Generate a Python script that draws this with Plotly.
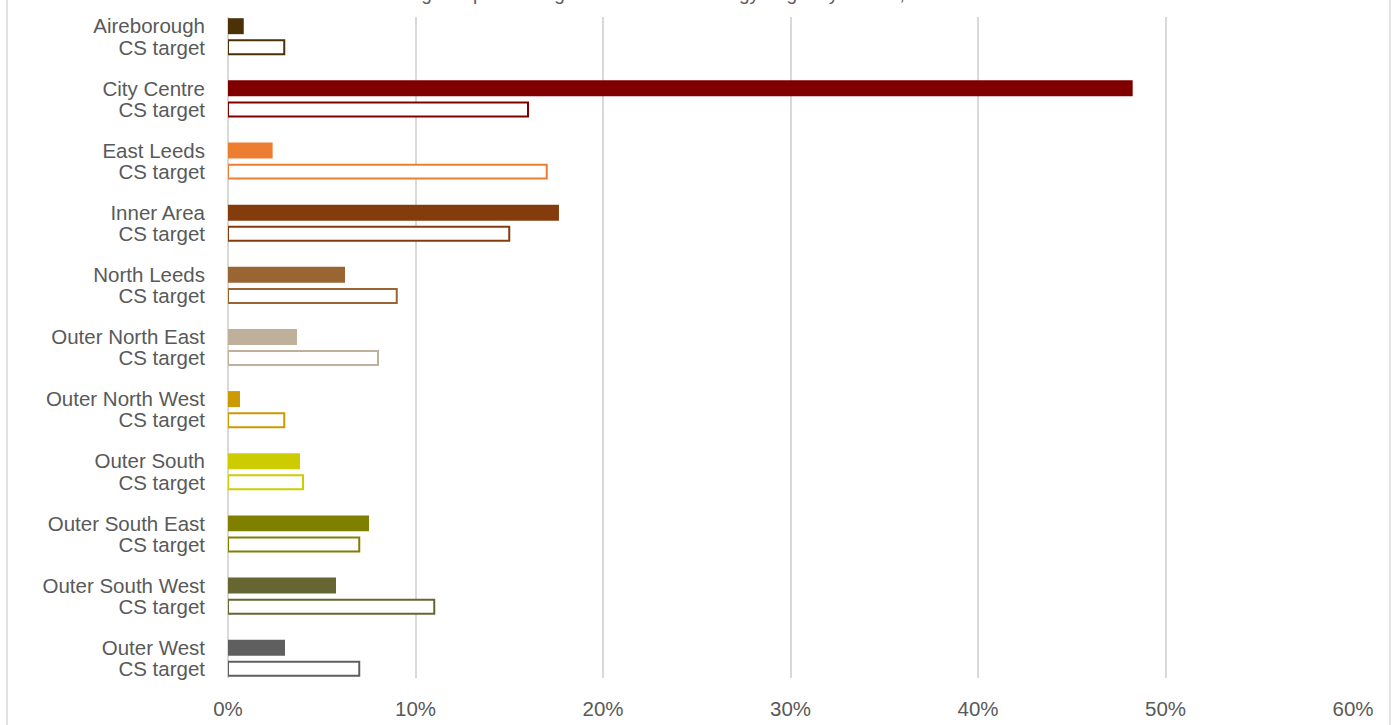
import plotly.graph_objects as go

# ---- data ----
regions = ["Aireborough", "City Centre", "East Leeds", "Inner Area", "North Leeds",
           "Outer North East", "Outer North West", "Outer South", "Outer South East",
           "Outer South West", "Outer West"]
actual_pct = [0.84, 48.25, 2.38, 17.65, 6.24, 3.68, 0.64, 3.84, 7.52, 5.76, 3.04]
target_pct = [3, 16, 17, 15, 9, 8, 3, 4, 7, 11, 7]
target_label = "CS target"
colors = ["#4A3106", "#800000", "#ED7D31", "#843C0C", "#996633", "#BFB09C",
          "#CC9900", "#CCCC00", "#808000", "#666633", "#5F5F5F"]
x_ticks = [0, 10, 20, 30, 40, 50, 60]
x_ticktext = [f"{v}%" for v in x_ticks]
title_text = "Housing completions against the Core Strategy target by HMCA, 2012-2023"

# ---- layout helpers ----
W, H = 1394, 725
L, R, T, B = 228, 41, 17, 47
OFF = 0.17
idx = list(range(len(regions)))
y_act = [i - OFF for i in idx]
y_tgt = [i + OFF for i in idx]

FONT = "Liberation Sans, Arial, sans-serif"
GREY = "#595959"
GRID = "#D9D9D9"
FS = 20.5

fig = go.Figure()
fig.add_bar(x=actual_pct, y=y_act, orientation="h", width=0.257,
            marker=dict(color=colors, line=dict(width=0)),
            name="Completions", showlegend=False)
fig.add_bar(x=target_pct, y=y_tgt, orientation="h", width=0.225,
            marker=dict(color="white", line=dict(color=colors, width=2)),
            name=target_label, showlegend=False)

tickvals = []
ticktext = []
for i, r in enumerate(regions):
    tickvals += [y_act[i], y_tgt[i]]
    ticktext += [r, target_label]

plot_w = W - L - R
plot_h = H - T - B

fig.update_layout(
    width=W, height=H,
    margin=dict(l=L, r=R, t=T, b=B, autoexpand=False),
    paper_bgcolor="white", plot_bgcolor="white",
    barmode="overlay",
    font=dict(family=FONT, size=FS, color=GREY),
    xaxis=dict(range=[0, 60], tickmode="array", tickvals=x_ticks, ticktext=x_ticktext,
               showgrid=True, gridcolor=GRID, gridwidth=1.5,
               zeroline=True, zerolinecolor=GRID, zerolinewidth=1.5,
               showline=False, ticks="", ticklabelstandoff=16, automargin=False,
               tickfont=dict(size=FS, color=GREY)),
    yaxis=dict(range=[10.318, -0.318], tickmode="array", tickvals=tickvals, ticktext=ticktext,
               showgrid=False, zeroline=False, showline=False, ticks="",
               ticklabelstandoff=22, automargin=False, tickfont=dict(size=FS, color=GREY)),
    shapes=[
        dict(type="line", xref="paper", yref="paper",
             x0=(7 - L) / plot_w, x1=(7 - L) / plot_w, y0=-0.08, y1=1.04,
             line=dict(color=GRID, width=1.5)),
        dict(type="line", xref="paper", yref="paper",
             x0=(1390 - L) / plot_w, x1=(1390 - L) / plot_w, y0=-0.08, y1=1.04,
             line=dict(color=GRID, width=1.5)),
    ],
    annotations=[
        dict(text=title_text, xref="paper", yref="paper",
             x=(360 - L) / plot_w, xanchor="left",
             y=1 + (T - 6) / plot_h, yanchor="bottom", showarrow=False,
             font=dict(family=FONT, size=19, color=GREY)),
    ],
)

fig.write_html("out.html")
